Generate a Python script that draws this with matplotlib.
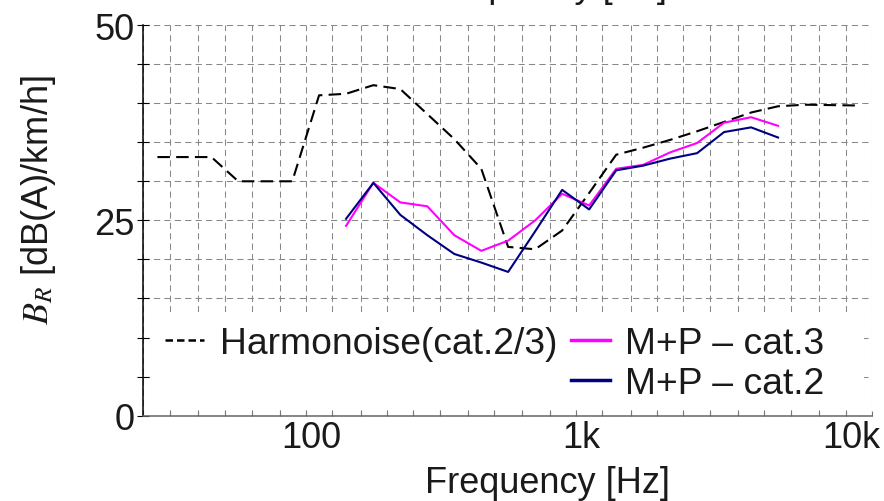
import numpy as np
import matplotlib
matplotlib.use('Agg')
import matplotlib.pyplot as plt
import matplotlib.transforms as mtransforms
from matplotlib.lines import Line2D
from matplotlib.patches import Rectangle
from matplotlib.ticker import FixedLocator, NullFormatter

plt.rcParams['font.family'] = ['Liberation Sans', 'DejaVu Sans']
plt.rcParams['mathtext.fontset'] = 'stix'

# third-octave bands used for the grid
bands = [25, 31.5, 40, 50, 63, 80, 100, 125, 160, 200, 250, 315, 400, 500,
         630, 800, 1000, 1250, 1600, 2000, 2500, 3150, 4000, 5000, 6300,
         8000, 10000, 12500]
xticks = [100, 1000, 10000]
xticklabels = ['100', '1k', '10k']

# Harmonoise (cat.2/3)
harm_f = [28.2, 44.7, 56.2, 89.1, 112, 141, 178, 224, 282, 355, 447, 562,
          708, 891, 1122, 1413, 1778, 2239, 2818, 3548, 4467, 5623, 7079, 11000]
harm_db = [33.1, 33.1, 30.0, 30.0, 41.0, 41.2, 42.3, 41.8, 38.6, 35.4, 31.6,
           21.6, 21.3, 23.7, 28.5, 33.4, 34.3, 35.3, 36.4, 37.6, 38.8, 39.6,
           39.8, 39.7]

# M+P measurements
mp_f = [141, 178, 224, 282, 355, 447, 562, 708, 891, 1122, 1413, 1778, 2239,
        2818, 3548, 4467, 5623]
mp_cat3 = [24.3, 29.8, 27.3, 26.8, 23.1, 21.1, 22.4, 25.0, 28.4, 26.9, 31.6,
           32.1, 33.7, 34.9, 37.5, 38.2, 37.1]
mp_cat2 = [25.2, 29.8, 25.7, 23.1, 20.7, 19.6, 18.4, 23.6, 28.9, 26.4, 31.4,
           32.0, 32.9, 33.6, 36.3, 36.9, 35.6]

fig = plt.figure(figsize=(8.84, 5.02), dpi=100)
ax = fig.add_axes([0.1621, 0.1699, 0.8240, 0.7783])

ax.plot(harm_f, harm_db, color='black', lw=1.5, ls=(0, (6, 3)), zorder=2)
ax.plot(mp_f, mp_cat3, color='#ff00ff', lw=1.5, zorder=2)
ax.plot(mp_f, mp_cat2, color='#000080', lw=1.5, zorder=2)

ax.set_xscale('log')
ax.set_xlim(25, 12500)
ax.set_ylim(0, 50)

ax.xaxis.set_major_locator(FixedLocator(xticks))
ax.set_xticklabels(xticklabels)
ax.xaxis.set_minor_locator(FixedLocator([b for b in bands if b not in xticks]))
ax.xaxis.set_minor_formatter(NullFormatter())
ax.set_yticks([0, 25, 50])
ax.yaxis.set_minor_locator(FixedLocator(np.arange(5, 50, 5)))

gkw = dict(color='#888888', lw=0.75, ls=(0, (6, 4)))
ax.grid(True, which='both', axis='both', **gkw)

ax.tick_params(axis='x', which='both', direction='in', length=3.6, width=0.8,
               color='#777777', labelsize=26, pad=3, labelcolor='#1a1a1a')
ax.tick_params(axis='y', which='both', direction='inout', length=8.5, width=0.8,
               color='black', labelsize=26, pad=2, labelcolor='#1a1a1a')

for s in ['top', 'right']:
    ax.spines[s].set_visible(False)
ax.spines['left'].set_color('black')
ax.spines['left'].set_linewidth(1.1)
ax.spines['bottom'].set_color('#666666')
ax.spines['bottom'].set_linewidth(1.1)

# white panel behind the legend
ax.add_patch(Rectangle((0.01, 0.014), 0.98, 0.251, transform=ax.transAxes,
                       facecolor='white', edgecolor='none', zorder=1.6))

handles = [Line2D([], [], color='black', lw=1.8, ls=(0, (3, 1.6))),
           Line2D([], [], color='none'),
           Line2D([], [], color='#ff00ff', lw=2.5),
           Line2D([], [], color='#000080', lw=2.5)]
labels = ['Harmonoise(cat.2/3)', '', 'M+P \u2013 cat.3', 'M+P \u2013 cat.2']
leg = ax.legend(handles, labels, ncol=2, frameon=False, fontsize=26.8,
                handlelength=1.05, handletextpad=0.42, columnspacing=0.36,
                labelspacing=0.13, borderpad=0, borderaxespad=0,
                loc='upper left', bbox_to_anchor=(0.03, 0.2296))
for t in leg.get_texts():
    t.set_color('#1a1a1a')

ax.set_xlabel('Frequency [Hz]', fontsize=26, color='#1a1a1a')
ax.xaxis.label.set_va('baseline')
ax.xaxis.set_label_coords(0.5545, -0.1953)

ax.set_ylabel('$B_R$ [dB(A)/km/h]', fontsize=26, color='#1a1a1a')
ax.yaxis.set_label_coords(-0.117, 0.555)

# x label of the panel above, cut by the top edge
fig.text(544 / 884, 1.005, 'Frequency [Hz]', ha='center', va='baseline',
         fontsize=26, color='#1a1a1a')

# tick labels sit a little right of their ticks in the reference
fig.canvas.draw()
shift = mtransforms.ScaledTranslation(6 / 100, 0, fig.dpi_scale_trans)
for tick in ax.xaxis.get_major_ticks():
    tick.label1.set_transform(tick.label1.get_transform() + shift)

fig.savefig('out.png', dpi=100)
